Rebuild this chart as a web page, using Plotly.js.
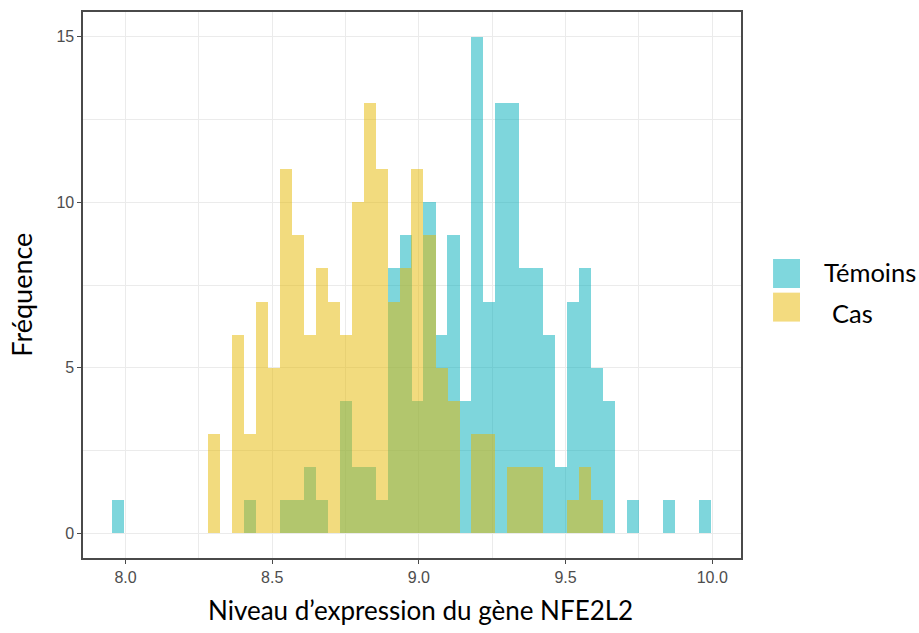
<!DOCTYPE html>
<html><head><meta charset="utf-8">
<script src="https://cdn.plot.ly/plotly-3.0.1.min.js"></script>
<style>html,body{margin:0;padding:0;background:#fff}#chart{width:919px;height:633px}</style>
</head><body><div id="chart"></div>
<script>
// Bin centres of the histogram (50 bins)
const binCenters = [7.975, 8.016, 8.057, 8.097, 8.138, 8.179, 8.220, 8.261, 8.302, 8.342,
  8.383, 8.424, 8.465, 8.506, 8.546, 8.587, 8.628, 8.669, 8.710, 8.750,
  8.791, 8.832, 8.873, 8.914, 8.955, 8.995, 9.036, 9.077, 9.118, 9.159,
  9.199, 9.240, 9.281, 9.322, 9.363, 9.404, 9.444, 9.485, 9.526, 9.567,
  9.608, 9.648, 9.689, 9.730, 9.771, 9.812, 9.852, 9.893, 9.934, 9.975];
const binWidth = 0.0413;
const temoins = [1, 0, 0, 0, 0, 0, 0, 0, 0, 0,
  0, 1, 0, 0, 1, 1, 2, 1, 0, 4,
  2, 2, 1, 8, 9, 4, 10, 6, 9, 4,
  15, 7, 13, 13, 8, 8, 6, 2, 7, 8,
  5, 4, 0, 1, 0, 0, 1, 0, 0, 1];
const cas = [0, 0, 0, 0, 0, 0, 0, 0, 3, 0,
  6, 3, 7, 5, 11, 9, 6, 8, 7, 6,
  10, 13, 11, 7, 8, 11, 9, 5, 4, 0,
  3, 3, 0, 2, 2, 2, 0, 0, 1, 2,
  1, 0, 0, 0, 0, 0, 0, 0, 0, 0];
const seriesNames = ["Témoins", "Cas"];
const seriesColors = ["#00AFBB", "#E7B800"];
const xTickVals = [8.0, 8.5, 9.0, 9.5, 10.0];
const xTickText = ["8.0", "8.5", "9.0", "9.5", "10.0"];
const yTickVals = [0, 5, 10, 15];
const xTitle = "Niveau d’expression du gène NFE2L2";
const yTitle = "Fréquence";

const series = [temoins, cas];
const traces = series.map((vals, i) => ({
  type: "bar",
  name: seriesNames[i],
  x: binCenters,
  y: vals,
  width: binWidth,
  marker: {color: seriesColors[i], line: {width: 0}},
  opacity: 0.5,
  showlegend: false,
  hoverinfo: "x+y+name"
}));

const grid = "#EBEBEB";
const lineCol = "#4A4A4A";
const tickFont = {family: "Liberation Sans, Arial, sans-serif", size: 16, color: "#4D4D4D"};
const titleFont = {family: "Lato, Carlito, Calibri, sans-serif", size: 26, color: "#000"};

// legend drawn as shapes + annotations to reproduce large keys
const keyX0 = 1.0487, keyX1 = 1.0897;
const keyY = [[0.4945, 0.5476], [0.4330, 0.4860]];
const shapes = keyY.map((yy, i) => ({
  type: "rect", xref: "paper", yref: "paper",
  x0: keyX0, x1: keyX1, y0: yy[0], y1: yy[1],
  fillcolor: seriesColors[i], opacity: 0.5, line: {width: 0}
}));
const legendTextPos = [[1.1227, 0.5238], [1.1354, 0.4488]];
const annotations = seriesNames.map((n, i) => ({
  xref: "paper", yref: "paper", x: legendTextPos[i][0], y: legendTextPos[i][1],
  xanchor: "left", yanchor: "middle", showarrow: false, text: n,
  font: {family: "Lato, Carlito, Calibri, sans-serif", size: 25.5, color: "#000"}
}));
annotations.push({
  xref: "paper", yref: "paper", x: 0.5127, y: -0.0946, xanchor: "center", yanchor: "middle",
  showarrow: false, text: xTitle, font: titleFont
});
annotations.push({
  xref: "paper", yref: "paper", x: -0.0932, y: 0.4817, xanchor: "center", yanchor: "middle",
  showarrow: false, text: yTitle, textangle: -90, font: Object.assign({}, titleFont, {size: 27})
});

const layout = {
  width: 919, height: 633,
  margin: {l: 83, r: 178, t: 12, b: 75, pad: 0},
  paper_bgcolor: "#fff", plot_bgcolor: "#fff",
  barmode: "overlay", bargap: 0,
  showlegend: false,
  xaxis: {
    range: [7.855, 10.098], tickvals: xTickVals, ticktext: xTickText,
    showgrid: true, gridcolor: grid, gridwidth: 1,
    minor: {dtick: 0.25, tick0: 0, showgrid: true, gridcolor: grid, gridwidth: 1, ticks: ""},
    zeroline: false, showline: true, mirror: true, linecolor: lineCol, linewidth: 1.6,
    ticks: "outside", ticklen: 4, tickwidth: 1.2, tickcolor: lineCol,
    tickfont: tickFont, title: {text: ""}
  },
  yaxis: {
    range: [-0.75, 15.75], tickvals: yTickVals,
    showgrid: true, gridcolor: grid, gridwidth: 1,
    minor: {dtick: 2.5, tick0: 0, showgrid: true, gridcolor: grid, gridwidth: 1, ticks: ""},
    zeroline: false, showline: true, mirror: true, linecolor: lineCol, linewidth: 1.6,
    ticks: "outside", ticklen: 4, tickwidth: 1.2, tickcolor: lineCol,
    tickfont: tickFont, title: {text: ""}
  },
  shapes: shapes,
  annotations: annotations
};

Plotly.newPlot("chart", traces, layout, {displayModeBar: false, staticPlot: true});
</script>
</body></html>
